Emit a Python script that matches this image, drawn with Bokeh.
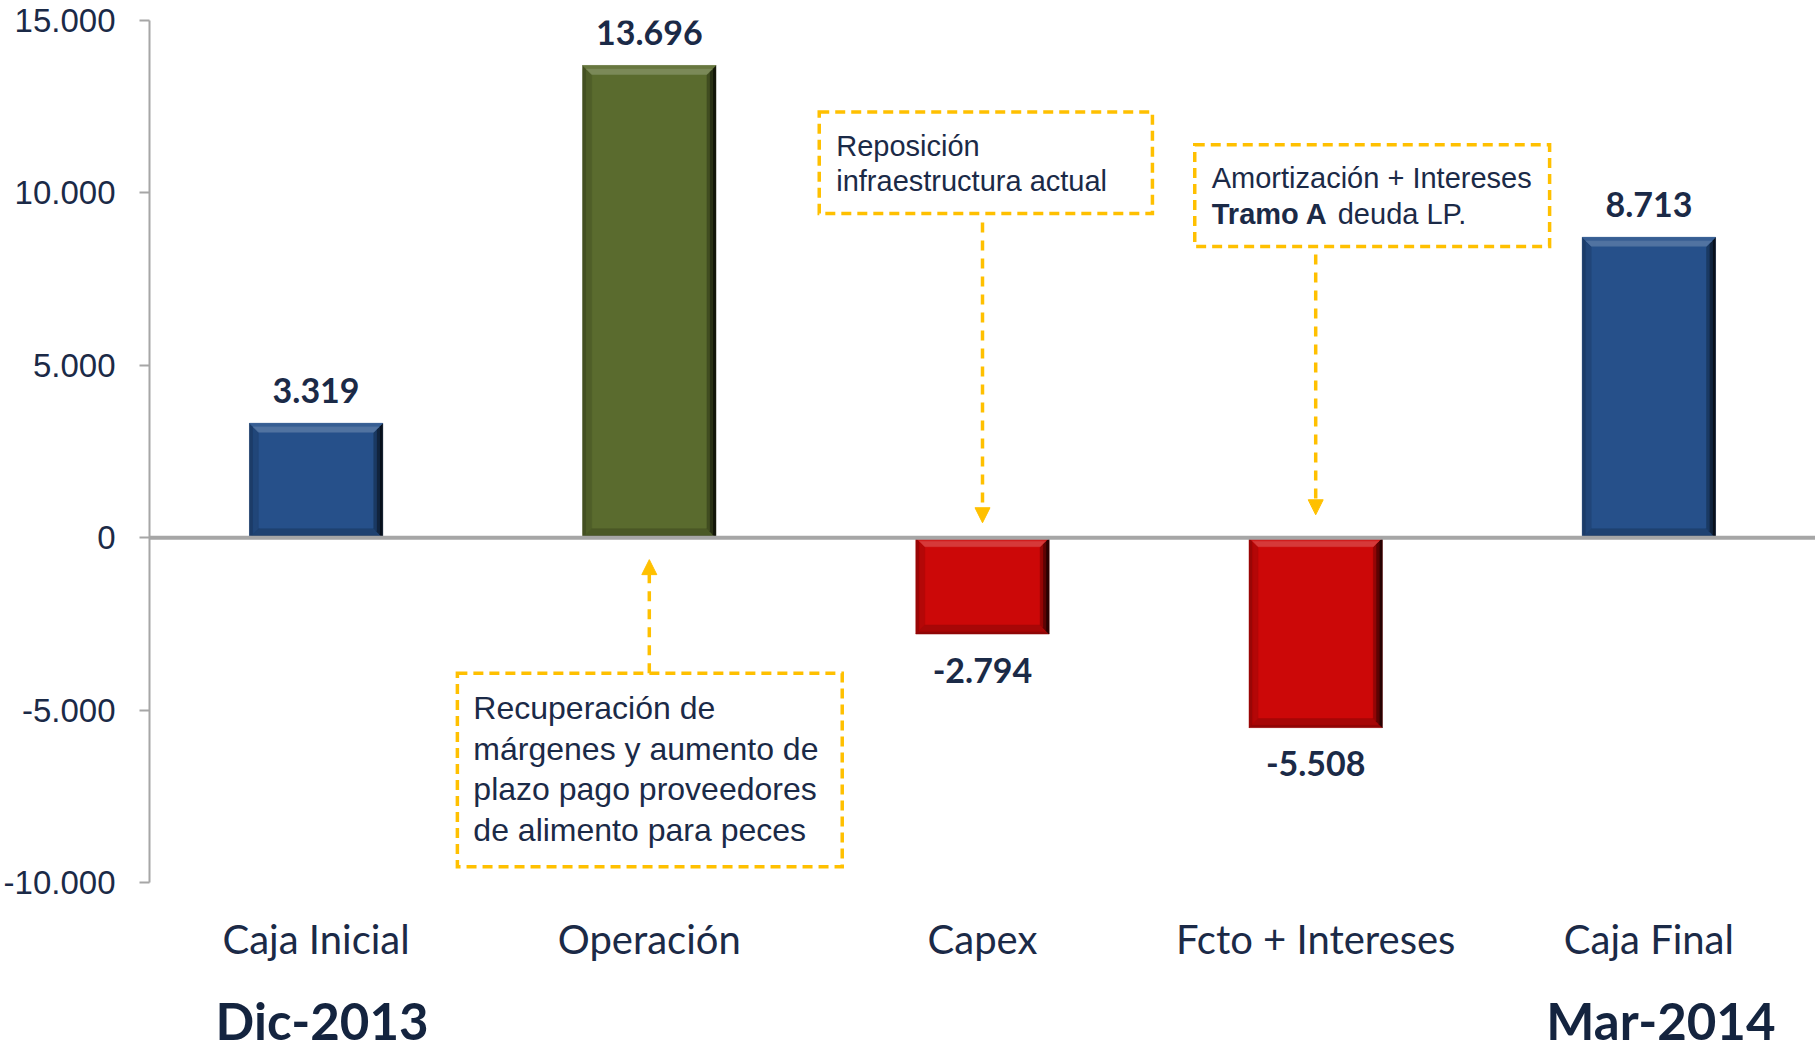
from bokeh.plotting import figure
from bokeh.models import (Range1d, FixedTicker, LinearAxis, Span, Arrow, NormalHead,
                          LabelSet, ColumnDataSource)
from bokeh.core.properties import value
from bokeh.embed import file_html
from bokeh.resources import INLINE

# ---------------- data ----------------
categories = ["Caja Inicial", "Operación", "Capex", "Fcto + Intereses", "Caja Final"]
values = [3319, 13696, -2794, -5508, 8713]
bar_colors = ["#26508a", "#5a6b2e", "#cc0808", "#cc0808", "#26508a"]
y_ticks = [-10000, -5000, 0, 5000, 10000, 15000]
y_tick_labels = ["-10.000", "-5.000", "0", "5.000", "10.000", "15.000"]
period_labels = ["Dic-2013", "Mar-2014"]
period_categories = ["Caja Inicial", "Caja Final"]

note_capex = ["Reposición", "infraestructura actual"]
note_fcto_line1 = "Amortización + Intereses"
note_fcto_bold = "Tramo A"
note_fcto_rest = "deuda LP."
note_oper = ["Recuperación de", "márgenes y aumento de",
             "plazo pago proveedores", "de alimento para peces"]

# ---------------- style / layout ----------------
NAVY = "#1b2a47"
YEL = "#ffc000"
GRAY = "#a6a6a6"
W, H = 1815, 1052
BL = 148
TOP_PX, BOT_PX = 20, 882          # screen rows of the 15.000 and -10.000 levels
Y0, Y1 = y_ticks[0], y_ticks[-1]
PX_PER_UNIT = (BOT_PX - TOP_PX) / (Y1 - Y0)
Y_LOW = Y0 - (H - BOT_PX) / PX_PER_UNIT   # frame continues below the axis for the labels
FRAME_W = W - BL
PX_X = len(categories) / FRAME_W
PX_Y = 1 / PX_PER_UNIT
BAR_W = 0.40
BEV = 9

def fmt(v):
    return f"{v:,}".replace(",", ".")

def mix(c, target, f):
    r, g, b = int(c[1:3], 16), int(c[3:5], 16), int(c[5:7], 16)
    t = 255 if target == "w" else 0
    r, g, b = [round(x + (t - x) * f) for x in (r, g, b)]
    return f"#{r:02x}{g:02x}{b:02x}"

xpos = {c: i + 0.5 for i, c in enumerate(categories)}

p = figure(width=W, height=H, x_range=Range1d(0, len(categories)), y_range=Range1d(Y_LOW, Y1),
           output_backend="svg", toolbar_location=None,
           min_border_left=BL, min_border_right=0, min_border_top=TOP_PX, min_border_bottom=0,
           x_axis_location=None, y_axis_location=None)
p.xgrid.visible = False
p.ygrid.visible = False
p.outline_line_color = None
p.background_fill_color = "white"
p.border_fill_color = "white"

# y axis (bounded to the value range)
yax = LinearAxis(ticker=FixedTicker(ticks=y_ticks), bounds=(Y0, Y1),
                 major_label_overrides={t: l for t, l in zip(y_ticks, y_tick_labels)})
yax.axis_line_color = GRAY
yax.axis_line_width = 2
yax.major_tick_line_color = GRAY
yax.major_tick_line_width = 2
yax.major_tick_out = 10
yax.major_tick_in = 0
yax.minor_tick_line_color = None
yax.major_label_standoff = 24
yax.major_label_text_font = "Liberation Sans"
yax.major_label_text_font_size = "33px"
yax.major_label_text_color = NAVY
p.add_layout(yax, "left")

# bars
lefts = [xpos[c] - BAR_W / 2 for c in categories]
rights = [xpos[c] + BAR_W / 2 for c in categories]
tops = [max(v, 0) for v in values]
bottoms = [min(v, 0) for v in values]
p.quad(left=lefts, right=rights, top=tops, bottom=bottoms,
       fill_color=bar_colors, line_color=None)

# bevel effect
dx, dy = BEV * PX_X, BEV * PX_Y
layers = [
    ("left", 0.0, 0.4, "k", 0.25), ("left", 0.4, 1.0, "k", 0.12),
    ("bottom", 0.0, 0.3, "k", 0.30), ("bottom", 0.3, 1.0, "k", 0.18),
    ("right", 0.0, 0.35, "k", 0.80), ("right", 0.35, 0.7, "k", 0.55), ("right", 0.7, 1.0, "k", 0.28),
    ("top", 0.0, 0.4, "w", 0.08), ("top", 0.4, 1.0, "w", 0.20),
]
bxs, bys, bcs = [], [], []
for L, R, T, B, col in zip(lefts, rights, tops, bottoms, bar_colors):
    for side, fa, fb, tgt, f in layers:
        if side == "top":
            xs = [L + fa * dx, R - fa * dx, R - fb * dx, L + fb * dx]
            ys = [T - fa * dy, T - fa * dy, T - fb * dy, T - fb * dy]
        elif side == "bottom":
            xs = [L + fa * dx, R - fa * dx, R - fb * dx, L + fb * dx]
            ys = [B + fa * dy, B + fa * dy, B + fb * dy, B + fb * dy]
        elif side == "left":
            xs = [L + fa * dx, L + fb * dx, L + fb * dx, L + fa * dx]
            ys = [T - fa * dy, T - fb * dy, B + fb * dy, B + fa * dy]
        else:
            xs = [R - fa * dx, R - fb * dx, R - fb * dx, R - fa * dx]
            ys = [T - fa * dy, T - fb * dy, B + fb * dy, B + fa * dy]
        bxs.append(xs)
        bys.append(ys)
        bcs.append(mix(col, tgt, f))
p.patches(xs=bxs, ys=bys, fill_color=bcs, line_color=bcs, line_width=0.5)

# zero line
p.add_layout(Span(location=0, dimension="width", line_color=GRAY, line_width=4))

# value labels
vsrc = ColumnDataSource(dict(
    x=[xpos[c] for c in categories], y=values, text=[fmt(v) for v in values],
    yoff=[33 if v >= 0 else -36 for v in values]))
p.add_layout(LabelSet(x="x", y="y", text="text", source=vsrc, y_offset="yoff",
                      text_align="center", text_baseline="middle",
                      text_font=value("Lato"), text_font_style="bold",
                      text_font_size="34px", text_color=NAVY))

# category labels under the value range
csrc = ColumnDataSource(dict(x=[xpos[c] for c in categories], y=[Y0] * len(categories),
                             text=categories))
p.add_layout(LabelSet(x="x", y="y", text="text", source=csrc, y_offset=-56,
                      text_align="center", text_baseline="middle",
                      text_font=value("Lato"), text_font_size="40px", text_color=NAVY))

# period labels
psrc = ColumnDataSource(dict(x=[xpos[c] for c in period_categories],
                             y=[Y0] * len(period_labels), text=period_labels,
                             xoff=[6, 12]))
p.add_layout(LabelSet(x="x", y="y", text="text", source=psrc, y_offset=-138, x_offset="xoff",
                      text_align="center", text_baseline="middle",
                      text_font=value("Lato"), text_font_style="bold",
                      text_font_size="51px", text_color="#14243f"))

# annotation boxes (dashed)
box_l = [2.01, 3.137, 0.924]
box_r = [3.01, 4.202, 2.079]
box_t = [12348, 11394, -3933]
box_b = [9399, 8445, -9544]
p.quad(left=box_l, right=box_r, top=box_t, bottom=box_b, fill_color=None,
       line_color=YEL, line_width=3.5, line_dash="10 6", line_join="miter")

# arrows
arrows = [(xpos["Operación"], -3933, -636),
          (xpos["Capex"], 9139, 434),
          (xpos["Fcto + Intereses"], 8213, 665)]
for ax_, ys_, ye_ in arrows:
    p.add_layout(Arrow(end=NormalHead(size=15, fill_color=YEL, line_color=YEL, line_width=1),
                       x_start=ax_, y_start=ys_, x_end=ax_, y_end=ye_,
                       line_color=YEL, line_width=3.5, line_dash="10 8"))

# annotation texts
def add_text(x, ys, lines, size, bold=False, xoff=0):
    p.text(x=[x] * len(lines), y=ys, text=lines, text_font=value("Liberation Sans"),
           text_font_size=size, text_color=NAVY, text_align="left", text_baseline="middle",
           text_font_style="bold" if bold else "normal", x_offset=xoff)

add_text(2.061, [11351, 10354], note_capex, "29px")
add_text(3.188, [10440], [note_fcto_line1], "29px")
add_text(3.188, [9399], [note_fcto_bold], "29px", bold=True)
add_text(3.188, [9399], [note_fcto_rest], "29px", xoff=126)
add_text(0.972, [-4945, -6131, -7288, -8474], note_oper, "32px")

open("out.html", "w").write(file_html(p, INLINE))
